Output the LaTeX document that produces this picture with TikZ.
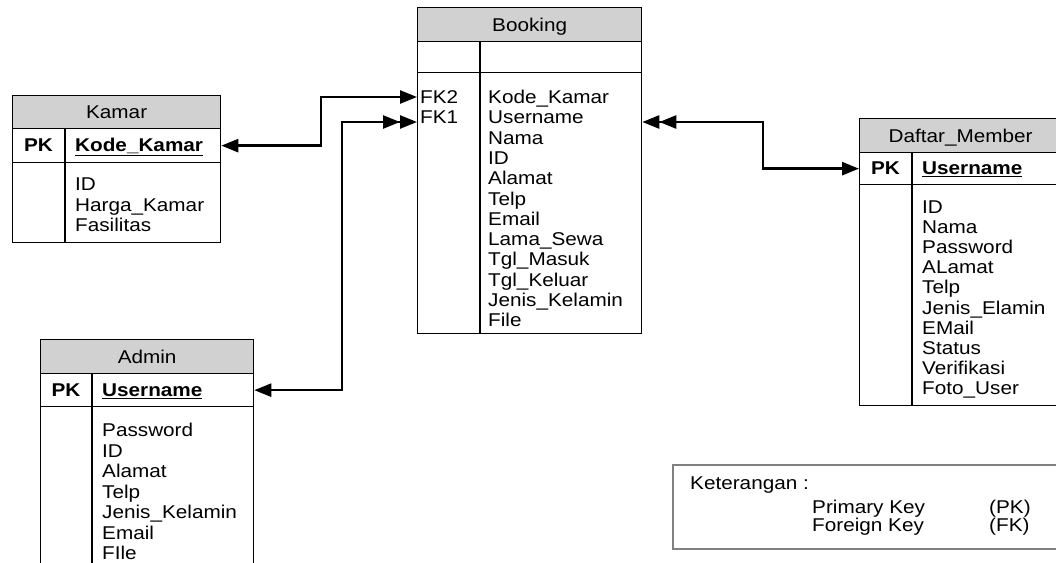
\documentclass[tikz,border=0pt]{standalone}
\usepackage{fontspec}
\setmainfont{Liberation Sans}[FakeStretch=1.12]
\usetikzlibrary{arrows.meta}
\definecolor{hdr}{gray}{0.82}
\definecolor{keyline}{gray}{0.5}
\begin{document}
\begin{tikzpicture}[x=1pt,y=-1pt,
  every node/.style={font=\fontsize{18.5}{20.3}\selectfont},
  box/.style={draw=black,line width=1.3pt,anchor=north west,inner sep=0pt,text height=13pt,text depth=0pt},
  hbox/.style={box,fill=hdr},
  divline/.style={draw=black,line width=1.3pt},
  txt/.style={anchor=west,inner sep=0pt,text height=13pt,text depth=0pt},
  txtc/.style={anchor=center,inner sep=0pt,text height=13pt,text depth=0pt},
  conn/.style={line width=2.5pt,black},
]
\useasboundingbox (0,0) rectangle (1056,562);
\clip (0,0) rectangle (1056,562);
\fill[white] (0,0) rectangle (1056,562);

% ---------- Booking ----------
\node[hbox,minimum width=224pt,minimum height=34pt] (bH) at (417,7) {Booking};
\node[box,minimum width=224pt,minimum height=31pt] (bE) at (417,41) {};
\node[box,minimum width=224pt,minimum height=261pt] (bB) at (417,72) {};
\draw[divline] ([xshift=63pt]bE.north west) -- ([xshift=63pt]bB.south west);
\node[txt] (fk2) at (420,97) {FK2};
\node[txt] (fk1) at (420,117) {FK1};
\foreach \t [count=\i from 0] in {Kode\_Kamar,Username,Nama,ID,Alamat,Telp,Email,Lama\_Sewa,Tgl\_Masuk,Tgl\_Keluar,Jenis\_Kelamin,File}
  \node[txt] (bk\i) at (488,97+20.3*\i) {\t};

% ---------- Kamar ----------
\node[hbox,minimum width=208pt,minimum height=33pt] (kH) at (12,95) {Kamar};
\node[box,minimum width=208pt,minimum height=34pt] (kP) at (12,128) {};
\node[box,minimum width=208pt,minimum height=80pt] (kB) at (12,162) {};
\draw[divline] ([xshift=53pt]kP.north west) -- ([xshift=53pt]kB.south west);
\node[txtc] (kpk) at (38.5,145) {\bfseries PK};
\node[txt] (kkey) at (75,145) {\bfseries\underline{Kode\_Kamar}};
\foreach \t [count=\i from 0] in {ID,Harga\_Kamar,Fasilitas}
  \node[txt] (kb\i) at (75,184+20.5*\i) {\t};

% ---------- Admin ----------
\node[hbox,minimum width=213pt,minimum height=34pt] (aH) at (40,339) {Admin};
\node[box,minimum width=213pt,minimum height=33pt] (aP) at (40,373) {};
\node[box,minimum width=213pt,minimum height=190pt] (aB) at (40,406) {};
\draw[divline] ([xshift=52pt]aP.north west) -- ([xshift=52pt]aB.south west);
\node[txtc] (apk) at (66,390) {\bfseries PK};
\node[txt] (akey) at (102,390) {\bfseries\underline{Username}};
\foreach \t [count=\i from 0] in {Password,ID,Alamat,Telp,Jenis\_Kelamin,Email,FIle}
  \node[txt] (ab\i) at (102,430+20.5*\i) {\t};

% ---------- Daftar_Member ----------
\node[hbox,minimum width=202pt,minimum height=34pt] (dH) at (859,118) {Daftar\_Member};
\node[box,minimum width=202pt,minimum height=32pt] (dP) at (859,152) {};
\node[box,minimum width=202pt,minimum height=221pt] (dB) at (859,184) {};
\draw[divline] ([xshift=53pt]dP.north west) -- ([xshift=53pt]dB.south west);
\node[txtc] (dpk) at (885.5,168) {\bfseries PK};
\node[txt] (dkey) at (922,168) {\bfseries\underline{Username}};
\foreach \t [count=\i from 0] in {ID,Nama,Password,ALamat,Telp,Jenis\_Elamin,EMail,Status,Verifikasi,Foto\_User}
  \node[txt] (db\i) at (922,207+20.1*\i) {\t};

% ---------- Keterangan ----------
\node[draw=keyline,line width=1.8pt,anchor=north west,inner sep=0pt,minimum width=392pt,minimum height=84pt] (ket) at (672,464) {};
\node[txt] (kt0) at (690,483) {Keterangan :};
\node[txt] (kt1) at (812,507) {Primary Key};
\node[txt] (kt2) at (812,525) {Foreign Key};
\node[txt] (kt3) at (989,507) {(PK)};
\node[txt] (kt4) at (989,525) {(FK)};

% ---------- connectors ----------
\coordinate (y97) at (0,97);
\coordinate (y122) at (0,122);
\coordinate (pFK2) at (bB.west |- y97);
\coordinate (pFK1) at (bB.west |- y122);
\coordinate (pBU) at (bB.east |- y122);
\coordinate (j1) at (321,120);
\coordinate (j2) at (342,300);
\coordinate (j3) at (763,140);

\draw[conn,{Triangle[length=17pt,width=13pt]}-{Triangle[length=17pt,width=13pt]}]
  (kP.east) -| (j1) |- (pFK2);
\draw[conn,{Triangle[length=17pt,width=13pt]}-{Triangle[length=17pt,width=13pt,sep=0pt]Triangle[length=17pt,width=13pt]}]
  (aP.east) -| (j2) |- (pFK1);
\draw[conn,{Triangle[length=17pt,width=13pt,sep=0pt]Triangle[length=17pt,width=13pt]}-{Triangle[length=17pt,width=13pt]}]
  (pBU) -| (j3) |- (dP.west);
\end{tikzpicture}
\end{document}
